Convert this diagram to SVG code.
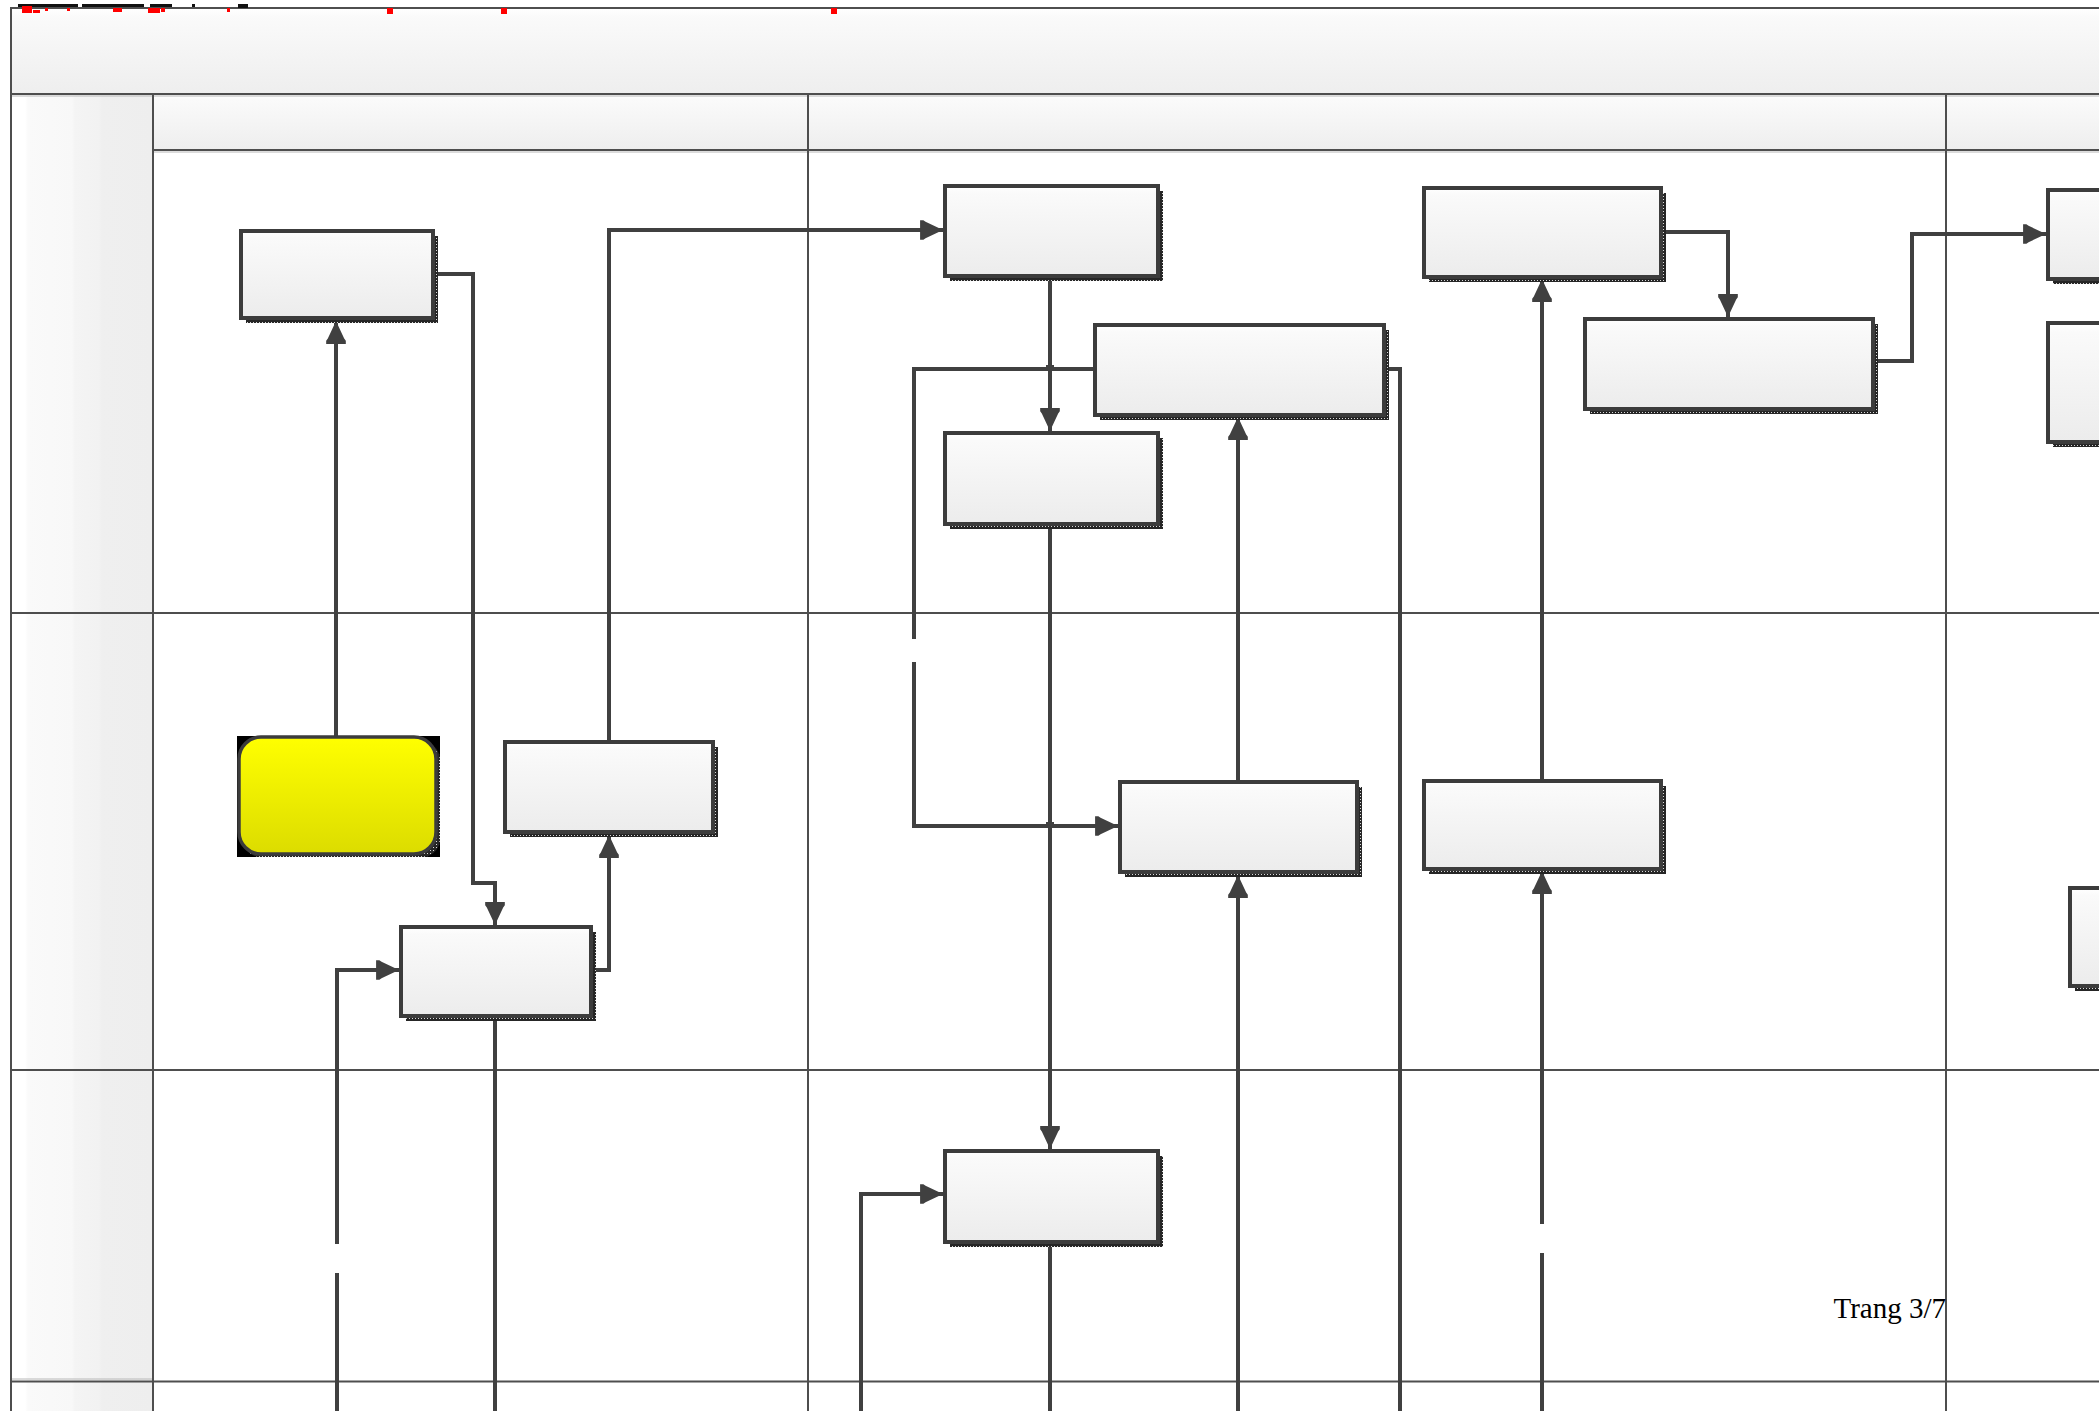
<svg xmlns="http://www.w3.org/2000/svg" width="2099" height="1411" viewBox="0 0 2099 1411">
<style>
.grid{stroke:#4e4e4e;stroke-width:2;fill:none}
.gridl{stroke:#b8b8b8;stroke-width:1;fill:none}
.node{fill:url(#nodeGrad);stroke:#3c3c3c;stroke-width:4}
.shadow{fill:url(#shade)}
.conn{fill:none;stroke:#404040;stroke-width:4;stroke-linejoin:miter}
.arr{marker-end:url(#arrow)}
.frag{fill:#ff0000}
.fragk{fill:#111}
.page{font-family:"Liberation Serif",serif;font-size:29px;fill:#000}
</style>
<defs>
<linearGradient id="nodeGrad" x1="0" y1="0" x2="0" y2="1">
<stop offset="0" stop-color="#ffffff"/>
<stop offset="0.08" stop-color="#fafafa"/>
<stop offset="1" stop-color="#ececec"/>
</linearGradient>
<linearGradient id="hdrGrad" x1="0" y1="0" x2="0" y2="1">
<stop offset="0" stop-color="#ffffff"/>
<stop offset="0.1" stop-color="#fafafa"/>
<stop offset="1" stop-color="#eeeeee"/>
</linearGradient>
<linearGradient id="colGrad" x1="0" y1="0" x2="1" y2="0">
<stop offset="0" stop-color="#ffffff"/>
<stop offset="0.1" stop-color="#ffffff"/>
<stop offset="0.12" stop-color="#fafafa"/>
<stop offset="0.43" stop-color="#f8f8f8"/>
<stop offset="0.45" stop-color="#f4f4f4"/>
<stop offset="0.62" stop-color="#f2f2f2"/>
<stop offset="0.64" stop-color="#efefef"/>
<stop offset="1" stop-color="#eeeeee"/>
</linearGradient>
<linearGradient id="yelGrad" x1="0" y1="0" x2="0" y2="1">
<stop offset="0" stop-color="#ffff00"/>
<stop offset="1" stop-color="#dcdc00"/>
</linearGradient>
<pattern id="shade" width="3" height="3" patternUnits="userSpaceOnUse">
<rect width="3" height="3" fill="#262626"/>
<rect x="1" y="1" width="1" height="1" fill="#d8d8d8"/>
</pattern>
<marker id="arrow" markerUnits="userSpaceOnUse" markerWidth="24" markerHeight="22" viewBox="0 0 22 20" refX="21" refY="10" orient="auto">
<path d="M21,10 L5,2.5 L3,1 L0,1 L0,19 L3,19 L5,17.5 Z" fill="#404040"/>
</marker>
</defs>

<rect x="0" y="0" width="2099" height="1411" fill="#ffffff"/>

<g id="frame">
<rect x="11" y="8" width="2100" height="86" fill="url(#hdrGrad)"/>
<rect x="11" y="94" width="142" height="1330" fill="url(#colGrad)"/>
<rect x="153" y="94" width="1960" height="56" fill="url(#hdrGrad)"/>
<line class="gridl" x1="11" y1="96" x2="2099" y2="96"/>
<line class="gridl" x1="153" y1="152" x2="2099" y2="152"/>
<line class="gridl" x1="11" y1="1379" x2="153" y2="1379"/>
<path class="grid" d="M11,1411 V8 H2099"/>
<line class="grid" x1="11" y1="94" x2="2099" y2="94"/>
<line class="grid" x1="153" y1="150" x2="2099" y2="150"/>
<line class="grid" x1="153" y1="94" x2="153" y2="1411"/>
<line class="grid" x1="808" y1="94" x2="808" y2="1411"/>
<line class="grid" x1="1946" y1="94" x2="1946" y2="1411"/>
<line class="grid" x1="11" y1="613" x2="2099" y2="613"/>
<line class="grid" x1="11" y1="1070" x2="2099" y2="1070"/>
<line class="grid" x1="11" y1="1381.5" x2="2099" y2="1381.5"/>
</g>

<g id="header-fragments">
<rect class="fragk" x="18" y="4" width="60" height="3"/>
<rect class="fragk" x="82" y="4" width="62" height="3"/>
<rect class="fragk" x="150" y="4" width="22" height="3"/>
<rect class="fragk" x="192" y="4" width="3" height="3"/>
<rect class="fragk" x="238" y="4" width="10" height="4"/>
<rect class="frag" x="22" y="6" width="10" height="7"/>
<rect class="frag" x="33" y="10" width="7" height="3"/>
<rect class="frag" x="45" y="8" width="3" height="3"/>
<rect class="frag" x="67" y="8" width="3" height="3"/>
<rect class="frag" x="113" y="8" width="9" height="4"/>
<rect class="frag" x="148" y="8" width="12" height="5"/>
<rect class="frag" x="161" y="8" width="4" height="4"/>
<rect class="frag" x="227" y="8" width="3" height="4"/>
<rect class="frag" x="387" y="8" width="6" height="6"/>
<rect class="frag" x="501" y="8" width="6" height="6"/>
<rect class="frag" x="831" y="8" width="6" height="6"/>
</g>

<g id="connectors">
<path class="conn arr" d="M336,736 V321"/>
<path class="conn arr" d="M433,274 H473 V883 H495 V925"/>
<path class="conn arr" d="M591,970 H609 V835"/>
<path class="conn arr" d="M609,742 V230 H943"/>
<path class="conn arr" d="M1050,276 V431"/>
<path class="conn" d="M1095,369 H914 V639"/>
<path class="conn arr" d="M914,662 V826 H1118"/>
<path class="conn" d="M1384,369 H1400 V1411"/>
<path class="conn arr" d="M1238,782 V417"/>
<path class="conn arr" d="M1238,1411 V875"/>
<path class="conn arr" d="M1050,525 V1149"/>
<path class="conn" d="M1050,1242 V1411"/>
<path class="conn arr" d="M861,1411 V1194 H943"/>
<path class="conn" d="M495,1016 V1411"/>
<path class="conn" d="M337,1411 V1273"/>
<path class="conn arr" d="M337,1244 V970 H399"/>
<path class="conn arr" d="M1542,781 V279"/>
<path class="conn" d="M1542,1411 V1253"/>
<path class="conn arr" d="M1542,1224 V871"/>
<path class="conn arr" d="M1661,232 H1728 V317"/>
<path class="conn arr" d="M1873,361 H1912 V234 H2046"/>
<rect x="1046" y="365" width="8" height="6" fill="#404040"/>
<rect x="1046" y="822" width="8" height="6" fill="#404040"/>
</g>

<g id="start">
<rect x="237" y="736" width="203" height="121" fill="#000"/>
<rect class="shadow" x="243" y="742" width="197" height="115" rx="18"/>
<rect x="239" y="737" width="197" height="117" rx="22" fill="url(#yelGrad)" stroke="#3c3c3c" stroke-width="3.5"/>
</g>

<g id="nodeA"><rect class="shadow" x="246" y="236" width="192" height="87"/><rect class="node" x="241" y="231" width="192" height="87"/></g>
<g id="nodeB"><rect class="shadow" x="510" y="747" width="208" height="90"/><rect class="node" x="505" y="742" width="208" height="90"/></g>
<g id="nodeC"><rect class="shadow" x="406" y="932" width="190" height="89"/><rect class="node" x="401" y="927" width="190" height="89"/></g>
<g id="nodeD"><rect class="shadow" x="950" y="191" width="213" height="90"/><rect class="node" x="945" y="186" width="213" height="90"/></g>
<g id="nodeE"><rect class="shadow" x="950" y="438" width="213" height="91"/><rect class="node" x="945" y="433" width="213" height="91"/></g>
<g id="nodeF"><rect class="shadow" x="1100" y="330" width="289" height="90"/><rect class="node" x="1095" y="325" width="289" height="90"/></g>
<g id="nodeG"><rect class="shadow" x="1125" y="787" width="237" height="90"/><rect class="node" x="1120" y="782" width="237" height="90"/></g>
<g id="nodeH"><rect class="shadow" x="950" y="1156" width="213" height="91"/><rect class="node" x="945" y="1151" width="213" height="91"/></g>
<g id="nodeI"><rect class="shadow" x="1429" y="193" width="237" height="89"/><rect class="node" x="1424" y="188" width="237" height="89"/></g>
<g id="nodeJ"><rect class="shadow" x="1590" y="324" width="288" height="90"/><rect class="node" x="1585" y="319" width="288" height="90"/></g>
<g id="nodeN"><rect class="shadow" x="1429" y="786" width="237" height="88"/><rect class="node" x="1424" y="781" width="237" height="88"/></g>
<g id="nodeK"><rect class="shadow" x="2053" y="195" width="120" height="89"/><rect class="node" x="2048" y="190" width="120" height="89"/></g>
<g id="nodeL"><rect class="shadow" x="2053" y="328" width="120" height="119"/><rect class="node" x="2048" y="323" width="120" height="119"/></g>
<g id="nodeM"><rect class="shadow" x="2075" y="893" width="100" height="98"/><rect class="node" x="2070" y="888" width="100" height="98"/></g>

<text class="page" x="1946" y="1318" text-anchor="end">Trang 3/7</text>
</svg>
